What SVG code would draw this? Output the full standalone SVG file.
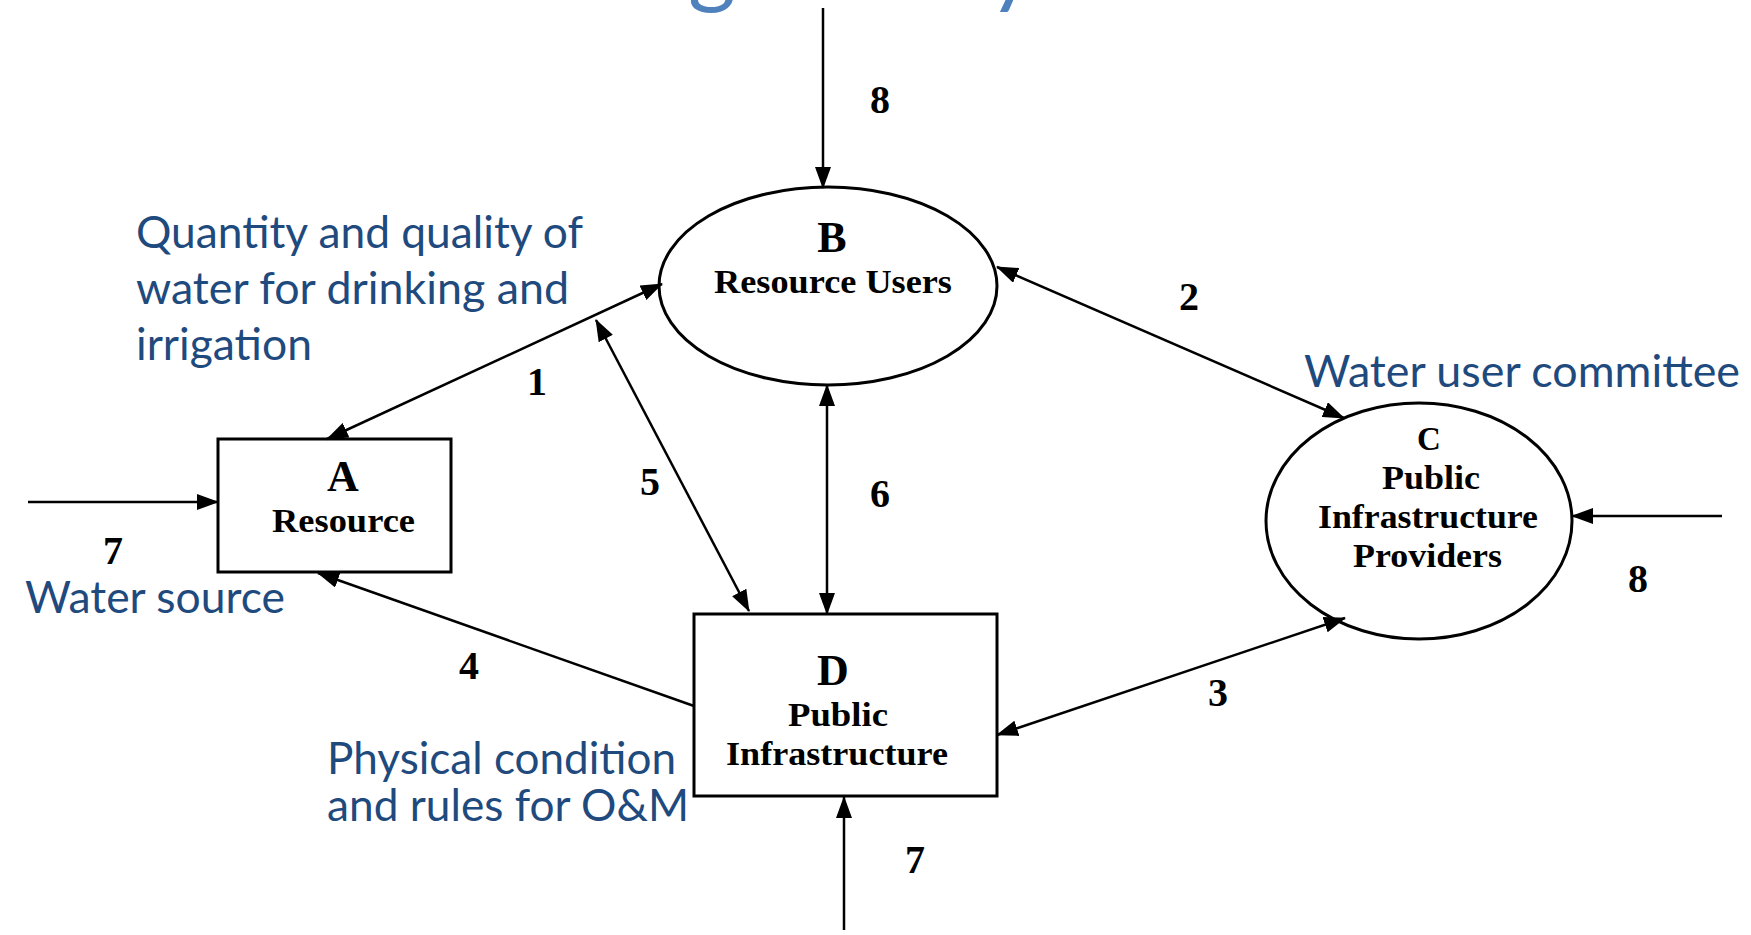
<svg xmlns="http://www.w3.org/2000/svg" width="1751" height="935" viewBox="0 0 1751 935">
<defs>
<marker id="ah" viewBox="0 0 22 16" markerWidth="22" markerHeight="16" refX="21" refY="8" orient="auto-start-reverse" markerUnits="userSpaceOnUse">
<path d="M0,0 L22,8 L0,16 z" fill="#000"/>
</marker>
<style>
.shape{fill:none;stroke:#000;stroke-width:3}
.conn{fill:none;stroke:#000;stroke-width:2.5}
.end{marker-end:url(#ah)}
.both{marker-start:url(#ah);marker-end:url(#ah)}
.lbl{font-family:"Liberation Serif","Times New Roman",serif;font-weight:bold;fill:#000}
.let{font-size:44px;text-anchor:middle}
.nm{font-size:33px}
.num{font-family:"Liberation Serif","Times New Roman",serif;font-weight:bold;font-size:40px;text-anchor:middle;fill:#000}
.note{font-family:Lato,"Noto Sans",sans-serif;font-size:44px;fill:#1F4A7E}
.title{font-family:Lato,"Noto Sans",sans-serif;font-size:92px;fill:#4F81BD;text-anchor:middle}
</style>
</defs>
<rect width="1751" height="935" fill="#FFFFFF"/>
<g id="title">
<text class="title" x="712" y="-4">g</text>
<text class="title" x="1012" y="-4">y</text>
</g>
<g id="connectors">
<line class="conn end" x1="823" y1="8" x2="823" y2="188"/>
<line class="conn both" x1="327" y1="439" x2="662" y2="284"/>
<line class="conn both" x1="596" y1="320" x2="749" y2="611"/>
<line class="conn both" x1="827" y1="385" x2="827" y2="614"/>
<line class="conn both" x1="997" y1="267" x2="1344" y2="418"/>
<line class="conn both" x1="997" y1="735" x2="1345" y2="618"/>
<line class="conn end" x1="694" y1="706" x2="318" y2="573"/>
<line class="conn end" x1="844" y1="930" x2="844" y2="797"/>
<line class="conn end" x1="28" y1="502" x2="218" y2="502"/>
<line class="conn end" x1="1722" y1="516" x2="1572" y2="516"/>
<text class="num" x="880" y="113">8</text>
<text class="num" x="537" y="395">1</text>
<text class="num" x="1189" y="310">2</text>
<text class="num" x="1218" y="706">3</text>
<text class="num" x="469" y="679">4</text>
<text class="num" x="650" y="495">5</text>
<text class="num" x="880" y="507">6</text>
<text class="num" x="915" y="873">7</text>
<text class="num" x="113" y="564">7</text>
<text class="num" x="1638" y="592">8</text>
</g>
<g id="nodeA">
<rect class="shape" x="218" y="439" width="233" height="133"/>
<text class="lbl let" x="343" y="491">A</text>
<text class="lbl nm" x="272" y="532" textLength="143" lengthAdjust="spacingAndGlyphs">Resource</text>
</g>
<g id="nodeB">
<ellipse class="shape" cx="828" cy="286" rx="169" ry="99"/>
<text class="lbl let" x="832" y="252">B</text>
<text class="lbl nm" x="714" y="293" textLength="238" lengthAdjust="spacingAndGlyphs">Resource Users</text>
</g>
<g id="nodeC">
<ellipse class="shape" cx="1419" cy="521" rx="153" ry="118"/>
<text class="lbl let" x="1429" y="450" style="font-size:33px">C</text>
<text class="lbl nm" x="1382" y="489" textLength="98" lengthAdjust="spacingAndGlyphs">Public</text>
<text class="lbl nm" x="1318" y="528" textLength="220" lengthAdjust="spacingAndGlyphs">Infrastructure</text>
<text class="lbl nm" x="1353" y="567" textLength="149" lengthAdjust="spacingAndGlyphs">Providers</text>
</g>
<g id="nodeD">
<rect class="shape" x="694" y="614" width="303" height="182"/>
<text class="lbl let" x="833" y="685">D</text>
<text class="lbl nm" x="788" y="726" textLength="100" lengthAdjust="spacingAndGlyphs">Public</text>
<text class="lbl nm" x="726" y="765" textLength="222" lengthAdjust="spacingAndGlyphs">Infrastructure</text>
</g>
<g id="notes">
<text class="note" x="136" y="248" textLength="447" lengthAdjust="spacingAndGlyphs">Quantity and quality of</text>
<text class="note" x="136" y="304" textLength="433" lengthAdjust="spacingAndGlyphs">water for drinking and</text>
<text class="note" x="136" y="360" textLength="176" lengthAdjust="spacingAndGlyphs">irrigation</text>
<text class="note" x="1304" y="387" textLength="436" lengthAdjust="spacingAndGlyphs">Water user committee</text>
<text class="note" x="25" y="613" textLength="260" lengthAdjust="spacingAndGlyphs">Water source</text>
<text class="note" x="327" y="774" textLength="349" lengthAdjust="spacingAndGlyphs">Physical condition</text>
<text class="note" x="327" y="821" textLength="362" lengthAdjust="spacingAndGlyphs">and rules for O&amp;M</text>
</g>
</svg>
